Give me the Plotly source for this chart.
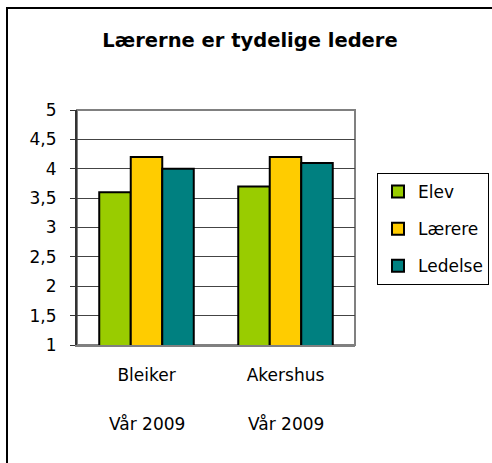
import plotly.graph_objects as go

categories = ["Bleiker", "Akershus"]
periods = ["Vår 2009", "Vår 2009"]
series_names = ["Elev", "Lærere", "Ledelse"]
elev = [3.6, 3.7]
laerere = [4.2, 4.2]
ledelse = [4.0, 4.1]
colors = ["#99CC00", "#FFCC00", "#008080"]
y_tickvals = [1, 1.5, 2, 2.5, 3, 3.5, 4, 4.5, 5]
y_ticktext = ["1", "1,5", "2", "2,5", "3", "3,5", "4", "4,5", "5"]

W, H = 492, 463
L, R, T, B = 77, 355, 110, 345
pw, ph = R - L, B - T

def px_x(x):
    return (x - L) / pw

def px_y(y):
    return (B - y) / ph

fig = go.Figure()
for i, (name, vals) in enumerate(zip(series_names, [elev, laerere, ledelse])):
    fig.add_trace(go.Bar(
        x=categories, y=vals, name=name, legendgroup=name,
        marker=dict(color=colors[i], line=dict(color="black", width=2)),
    ))

font_family = "DejaVu Sans, Liberation Sans, Arial, sans-serif"

fig.update_layout(
    width=W, height=H,
    margin=dict(l=L, r=W - R, t=T, b=H - B, pad=0, autoexpand=False),
    paper_bgcolor="white", plot_bgcolor="white",
    font=dict(family=font_family, size=17, color="black"),
    title=dict(text="<b>Lærerne er tydelige ledere</b>", x=250 / W, xref="container",
               xanchor="center", y=1 - 40 / H, yref="container", yanchor="middle",
               font=dict(size=19.5, color="black", family=font_family)),
    barmode="group", bargap=0.32, bargroupgap=0,
    showlegend=True,
    legend=dict(x=px_x(377), y=px_y(173), xanchor="left", yanchor="top",
                bordercolor="black", borderwidth=1, bgcolor="white",
                font=dict(size=17), traceorder="grouped", tracegroupgap=12,
                itemclick=False),
    xaxis=dict(showgrid=False, showline=True, linecolor="#808080", linewidth=2,
               ticks="", tickfont=dict(size=17), ticklabelstandoff=14,
               fixedrange=True),
    yaxis=dict(range=[1, 5], tickvals=y_tickvals, ticktext=y_ticktext,
               showgrid=True, gridcolor="#444444", gridwidth=1,
               showline=True, linecolor="#333333", linewidth=2,
               ticks="outside", ticklen=5, tickcolor="#333333", tickwidth=1,
               tickfont=dict(size=17), ticklabelstandoff=10, zeroline=False,
               fixedrange=True),
)

# plot-area border (gray)
fig.add_shape(type="rect", xref="paper", yref="paper", x0=0, x1=1, y0=0, y1=1,
              line=dict(color="#808080", width=2), layer="below")
# outer chart frame
fig.add_shape(type="rect", xref="paper", yref="paper",
              x0=px_x(7), x1=px_x(W + 20), y0=px_y(H + 20), y1=px_y(8),
              line=dict(color="black", width=2), layer="below")

for cat, per in zip(categories, periods):
    fig.add_annotation(x=cat, xref="x", y=px_y(424), yref="paper", text=per,
                       showarrow=False, yanchor="middle", xanchor="center",
                       font=dict(size=17, color="black"))

fig.write_html("out.html", config={"displayModeBar": False},
               post_script="document.body.style.margin='0px';")
